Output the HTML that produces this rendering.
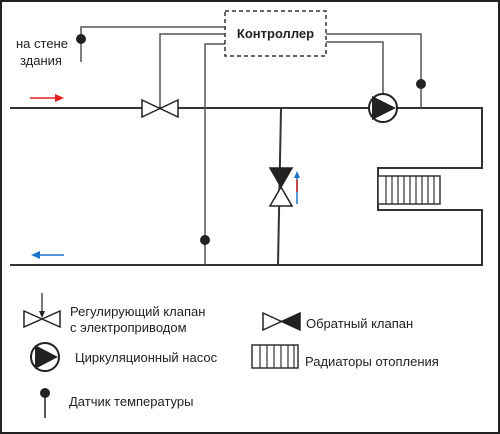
<!DOCTYPE html>
<html><head><meta charset="utf-8"><style>
html,body{margin:0;padding:0;background:#fff}
svg{display:block}
text{font-family:"Liberation Sans","DejaVu Sans",sans-serif;fill:#222}
</style></head><body>
<svg width="500" height="434" viewBox="0 0 500 434" xmlns="http://www.w3.org/2000/svg">
<rect x="1" y="1" width="498" height="432" fill="#fff" stroke="#222" stroke-width="2"/>
<g stroke="#333" stroke-width="2" fill="none">
<path d="M10 108 H482 V168 H378 V210 H482 V265 H10"/>
<path d="M281 108 L278 265"/>
</g>
<g stroke="#555" stroke-width="1.5" fill="none">
<path d="M81 62 V27 H225"/>
<path d="M160 108 V34 H225"/>
<path d="M205 265 V44 H225"/>
<path d="M326 34 H421 V108"/>
<path d="M326 42 H383 V95"/>
</g>
<rect x="225" y="11" width="101" height="45" fill="#fff" stroke="#333" stroke-width="1.5" stroke-dasharray="4,3"/>
<text x="275.5" y="38" font-size="13" font-weight="bold" text-anchor="middle">Контроллер</text>
<text x="16" y="48" font-size="13">на стене</text>
<text x="20" y="65" font-size="13">здания</text>
<g fill="#222"><circle cx="81" cy="39" r="5"/><circle cx="205" cy="240" r="5"/><circle cx="421" cy="84" r="5"/></g>
<path d="M142 100 L178 117 V100 L142 117 Z" fill="#fff" stroke="#222" stroke-width="1.5"/>
<circle cx="383" cy="108" r="14" fill="#fff" stroke="#222" stroke-width="2"/>
<path d="M372 96 L396 108 L372 120 Z" fill="#222"/>
<path d="M270 168 H292 L270 206 H292 Z" fill="#fff" stroke="#222" stroke-width="1.5"/>
<path d="M270 168 H292 L281 187 Z" fill="#222"/>
<line x1="297" y1="204" x2="297" y2="176" stroke="#1a75c9" stroke-width="1.5"/>
<line x1="297" y1="192" x2="297" y2="180" stroke="#e02020" stroke-width="1.5"/>
<path d="M294 178 L297 171 L300 178 Z" fill="#1a75c9"/>
<rect x="378" y="176" width="62" height="28" fill="#fff" stroke="#333" stroke-width="1.5"/>
<g stroke="#333" stroke-width="1.2"><line x1="386" y1="176" x2="386" y2="204"/><line x1="392" y1="176" x2="392" y2="204"/><line x1="398" y1="176" x2="398" y2="204"/><line x1="404" y1="176" x2="404" y2="204"/><line x1="410" y1="176" x2="410" y2="204"/><line x1="416" y1="176" x2="416" y2="204"/><line x1="422" y1="176" x2="422" y2="204"/><line x1="428" y1="176" x2="428" y2="204"/><line x1="434" y1="176" x2="434" y2="204"/></g>
<line x1="30" y1="98" x2="58" y2="98" stroke="#e02020" stroke-width="1.5"/>
<path d="M55 94 L64 98 L55 102 Z" fill="#e02020"/>
<line x1="37" y1="255" x2="64" y2="255" stroke="#1a75c9" stroke-width="1.5"/>
<path d="M40 251 L31 255 L40 259 Z" fill="#1a75c9"/>
<path d="M24 311 L60 327 V311 L24 327 Z" fill="#fff" stroke="#222" stroke-width="1.5"/>
<line x1="42" y1="293" x2="42" y2="316" stroke="#222" stroke-width="1.2"/>
<path d="M39 311 L42 318 L45 311 Z" fill="#222"/>
<text x="70" y="316" font-size="13">Регулирующий клапан</text>
<text x="70" y="332" font-size="13">с электроприводом</text>
<path d="M263 313 V330 L300 313 V330 Z" fill="#fff" stroke="#222" stroke-width="1.5"/>
<path d="M281 321.5 L300 313 V330 Z" fill="#222"/>
<text x="306" y="328" font-size="13">Обратный клапан</text>
<circle cx="45" cy="357" r="14" fill="#fff" stroke="#222" stroke-width="2"/>
<path d="M35 345 L58 357 L35 369 Z" fill="#222"/>
<text x="75" y="362" font-size="13">Циркуляционный насос</text>
<rect x="252" y="345" width="46" height="23" fill="#fff" stroke="#333" stroke-width="1.5"/>
<g stroke="#333" stroke-width="1.2"><line x1="260" y1="345" x2="260" y2="368"/><line x1="267" y1="345" x2="267" y2="368"/><line x1="274" y1="345" x2="274" y2="368"/><line x1="281" y1="345" x2="281" y2="368"/><line x1="288" y1="345" x2="288" y2="368"/><line x1="294" y1="345" x2="294" y2="368"/></g>
<text x="305" y="366" font-size="13">Радиаторы отопления</text>
<circle cx="45" cy="393" r="5" fill="#222"/>
<line x1="45" y1="393" x2="45" y2="418" stroke="#222" stroke-width="1.5"/>
<text x="69" y="406" font-size="13">Датчик температуры</text>
</svg>
</body></html>
